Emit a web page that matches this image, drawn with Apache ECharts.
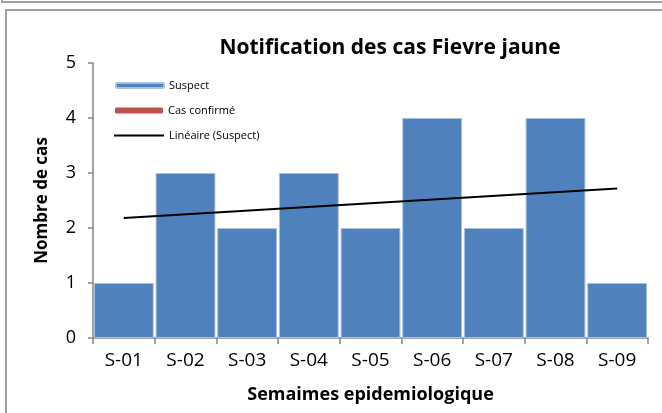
<!DOCTYPE html>
<html>
<head>
<meta charset="utf-8">
<script src="https://cdn.jsdelivr.net/npm/echarts@6/dist/echarts.min.js"></script>
<style>
  html, body { margin: 0; padding: 0; background: #fff; }
  #wrap { position: relative; width: 662px; height: 413px; overflow: hidden; }
  #chart { position: absolute; left: 0; top: 0; width: 662px; height: 413px; }
  .box-top { position: absolute; left: 1px; top: -20px; width: 700px; height: 23px; border: 2px solid #a0a0a0; box-sizing: border-box; }
  .box-main { position: absolute; left: 5px; top: 9px; width: 700px; height: 450px; border: 2px solid #a0a0a0; box-sizing: border-box; }
</style>
</head>
<body>
<div id="wrap">
  <div class="box-top"></div>
  <div class="box-main"></div>
  <div id="chart"></div>
</div>
<script>
const weeks = ['S-01', 'S-02', 'S-03', 'S-04', 'S-05', 'S-06', 'S-07', 'S-08', 'S-09'];
const suspect = [1, 3, 2, 3, 2, 4, 2, 4, 1];
const confirmed = [0, 0, 0, 0, 0, 0, 0, 0, 0];
// trend line: start at S-01, end at S-09
const trend = [2.18, null, null, null, null, null, null, null, 2.72];
const yTicks = [0, 1, 2, 3, 4, 5];

const chart = echarts.init(document.getElementById('chart'));
const font = '"Open Sans", sans-serif';

const option = {
  animation: false,
  title: {
    text: 'Notification des cas Fievre jaune',
    left: 385,
    top: 33,
    textAlign: 'center',
    textStyle: { fontFamily: font, fontSize: 21, fontWeight: 'bold', color: '#000' }
  },
  legend: [
    {
      data: ['Suspect'], left: 110, top: 75, itemWidth: 48, itemHeight: 5, itemGap: 6,
      textStyle: { fontFamily: font, fontSize: 11, color: '#000' }
    },
    {
      data: ['Cas confirmé'], left: 110, top: 100, itemWidth: 48, itemHeight: 6, itemGap: 6,
      textStyle: { fontFamily: font, fontSize: 11, color: '#000' }
    },
    {
      data: [{ name: 'Linéaire (Suspect)', icon: 'rect' }], left: 109, top: 125, itemWidth: 50, itemHeight: 2,
      textStyle: { fontFamily: font, fontSize: 11, color: '#000' }
    }
  ],
  grid: { left: 93, right: 14, top: 63, bottom: 75 },
  xAxis: {
    type: 'category',
    data: weeks,
    name: 'Semaimes epidemiologique',
    nameLocation: 'middle',
    nameGap: 48,
    nameTextStyle: { fontFamily: font, fontSize: 18, fontWeight: 'bold', color: '#000' },
    axisLine: { lineStyle: { color: '#868686', width: 1.5 } },
    axisTick: { show: true, length: 6, lineStyle: { color: '#868686', width: 1.5 } },
    axisLabel: { fontFamily: font, fontSize: 19, color: '#000', margin: 13 }
  },
  yAxis: {
    type: 'value',
    min: 0,
    max: 5,
    interval: 1,
    name: 'Nombre de cas',
    nameLocation: 'middle',
    nameRotate: 90,
    nameGap: 42,
    nameTextStyle: { fontFamily: font, fontSize: 17, fontWeight: 'bold', color: '#000' },
    axisLine: { show: true, lineStyle: { color: '#868686', width: 1.5 } },
    axisTick: { show: true, length: 5, lineStyle: { color: '#868686', width: 1.5 } },
    splitLine: { show: false },
    axisLabel: {
      fontFamily: font, fontSize: 18, color: '#000', margin: 17,
      formatter: v => yTicks.includes(v) ? String(v) : ''
    }
  },
  series: [
    {
      name: 'Suspect',
      type: 'bar',
      data: suspect,
      barCategoryGap: '3%',
      itemStyle: { color: '#4f81bd', borderColor: '#a9c1e0', borderWidth: 1 }
    },
    {
      name: 'Cas confirmé',
      type: 'bar',
      data: confirmed,
      barGap: '-100%',
      itemStyle: { color: '#c0504d' }
    },
    {
      name: 'Linéaire (Suspect)',
      type: 'line',
      data: trend,
      connectNulls: true,
      showSymbol: false,
      symbol: 'none',
      itemStyle: { color: '#000' },
      lineStyle: { color: '#000', width: 2 }
    }
  ]
};
chart.setOption(option);
</script>
</body>
</html>
